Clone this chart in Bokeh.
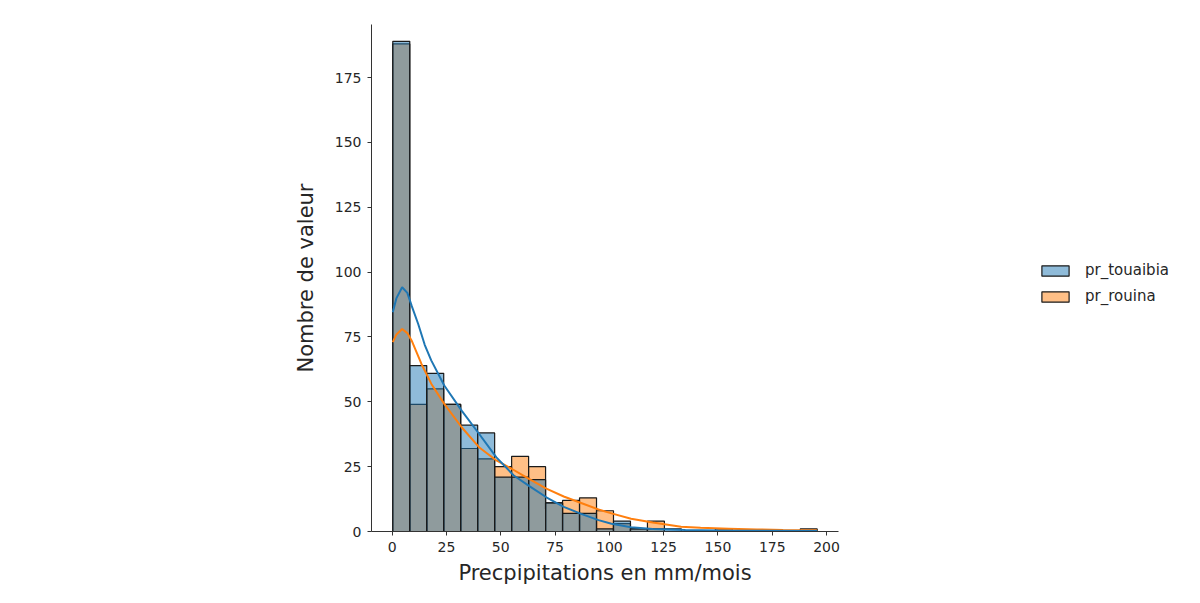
from bokeh.plotting import figure
from bokeh.layouts import row
from bokeh.models import FixedTicker, Legend, LegendItem, Range1d
from bokeh.embed import file_html
from bokeh.resources import INLINE

# ---- data ----
bin_start = 0.3
bin_width = 7.816
touaibia_counts = [189, 64, 61, 49, 41, 38, 21, 21, 20, 11, 7, 7, 1, 4, 1, 1, 1, 0, 0, 0, 0, 0, 0, 0, 0]
rouina_counts = [188, 49, 55, 49, 32, 28, 25, 29, 25, 11, 12, 13, 8, 3, 1, 4, 0, 0, 0, 1, 0, 0, 0, 0, 1]

kde_touaibia_x = [0.3, 2, 4.6, 7, 9, 12, 15, 18, 24, 32, 40, 48, 56, 63, 71, 79, 87, 95, 101, 110, 120, 135, 150, 170, 195.7]
kde_touaibia_y = [84.5, 90, 94.2, 92, 87, 80, 72, 66, 56.3, 46.6, 37.7, 28.6, 21.6, 17.6, 13.2, 9.5, 6.8, 4.4, 3.0, 1.6, 1.0, 0.6, 0.4, 0.3, 0.2]
kde_rouina_x = [0.3, 2, 4.6, 7, 9, 13.5, 18, 24, 32, 40, 48, 55, 63, 71, 79, 87, 95, 101, 110, 120, 133, 142, 155, 168, 180, 195.7]
kde_rouina_y = [73, 76, 78.1, 76.5, 73.6, 64.6, 57, 49.2, 40.2, 32.5, 27.4, 24.2, 20.3, 16.5, 13.5, 11, 8.5, 7, 4.9, 3.5, 1.8, 1.4, 1.1, 0.8, 0.6, 0.4]

x_ticks = [0, 25, 50, 75, 100, 125, 150, 175, 200]
y_ticks = [0, 25, 50, 75, 100, 125, 150, 175]

labels = ["pr_touaibia", "pr_rouina"]
x_label = "Precpipitations en mm/mois"
y_label = "Nombre de valeur"

n = len(touaibia_counts)
lefts = [bin_start + i * bin_width for i in range(n)]
rights = [bin_start + (i + 1) * bin_width for i in range(n)]
bottoms = [0] * n

FONT = "DejaVu Sans"
TXT = "#262626"
BLUE = "#1f77b4"
ORANGE = "#ff7f0e"
EDGE = "#1a1a1a"

p = figure(width=850, height=603, output_backend="svg", toolbar_location=None,
           x_range=Range1d(-9.5, 205.5), y_range=Range1d(0, 195.5),
           min_border_left=371, min_border_right=12, min_border_top=24, min_border_bottom=72,
           background_fill_color="white", border_fill_color="white")
p.outline_line_color = None
p.grid.grid_line_color = None

r_orange = p.quad(left=lefts, right=rights, bottom=bottoms, top=rouina_counts,
                  fill_color=ORANGE, fill_alpha=0.5, line_color=EDGE, line_width=1.2)
r_blue = p.quad(left=lefts, right=rights, bottom=bottoms, top=touaibia_counts,
                fill_color=BLUE, fill_alpha=0.5, line_color=EDGE, line_width=1.2)

p.line(kde_rouina_x, kde_rouina_y, line_color=ORANGE, line_width=2)
p.line(kde_touaibia_x, kde_touaibia_y, line_color=BLUE, line_width=2)

for ax in (p.xaxis, p.yaxis):
    ax.axis_line_color = "#333333"
    ax.axis_line_width = 1
    ax.major_tick_line_color = "#333333"
    ax.major_tick_out = 4
    ax.major_tick_in = 0
    ax.minor_tick_line_color = None
    ax.major_label_text_font = FONT
    ax.major_label_text_font_size = "14px"
    ax.major_label_text_color = TXT
    ax.axis_label_text_font = FONT
    ax.axis_label_text_font_size = "21px"
    ax.axis_label_text_font_style = "normal"
    ax.axis_label_text_color = TXT

p.xaxis.ticker = FixedTicker(ticks=x_ticks)
p.yaxis.ticker = FixedTicker(ticks=y_ticks)
p.xaxis.axis_label = x_label
p.yaxis.axis_label = y_label
p.xaxis.major_label_standoff = 6
p.yaxis.major_label_standoff = 6
p.xaxis.axis_label_standoff = 6
p.yaxis.axis_label_standoff = 14

# legend panel (separate figure to the right); its ranges hide the glyph data
pl = figure(width=350, height=603, output_backend="svg", toolbar_location=None,
            x_axis_location=None, y_axis_location=None,
            x_range=Range1d(1000, 1001), y_range=Range1d(1000, 1001),
            min_border_left=0, min_border_right=0, min_border_top=0, min_border_bottom=0,
            background_fill_color="white", border_fill_color="white")
pl.outline_line_color = None
pl.grid.grid_line_color = None
lg_blue = pl.quad(left=lefts, right=rights, bottom=bottoms, top=touaibia_counts,
                  fill_color=BLUE, fill_alpha=0.5, line_color=EDGE, line_width=1.2)
lg_orange = pl.quad(left=lefts, right=rights, bottom=bottoms, top=rouina_counts,
                    fill_color=ORANGE, fill_alpha=0.5, line_color=EDGE, line_width=1.2)

legend = Legend(items=[LegendItem(label=labels[0], renderers=[lg_blue]),
                       LegendItem(label=labels[1], renderers=[lg_orange])],
                location=(188, 226), border_line_color=None, background_fill_alpha=0,
                glyph_width=34, glyph_height=13, label_standoff=13, spacing=8,
                label_text_font=FONT, label_text_font_size="15px", label_text_color=TXT,
                padding=10, margin=0)
pl.add_layout(legend)

layout = row(p, pl, spacing=0)
open("out.html", "w").write(file_html(layout, INLINE))
